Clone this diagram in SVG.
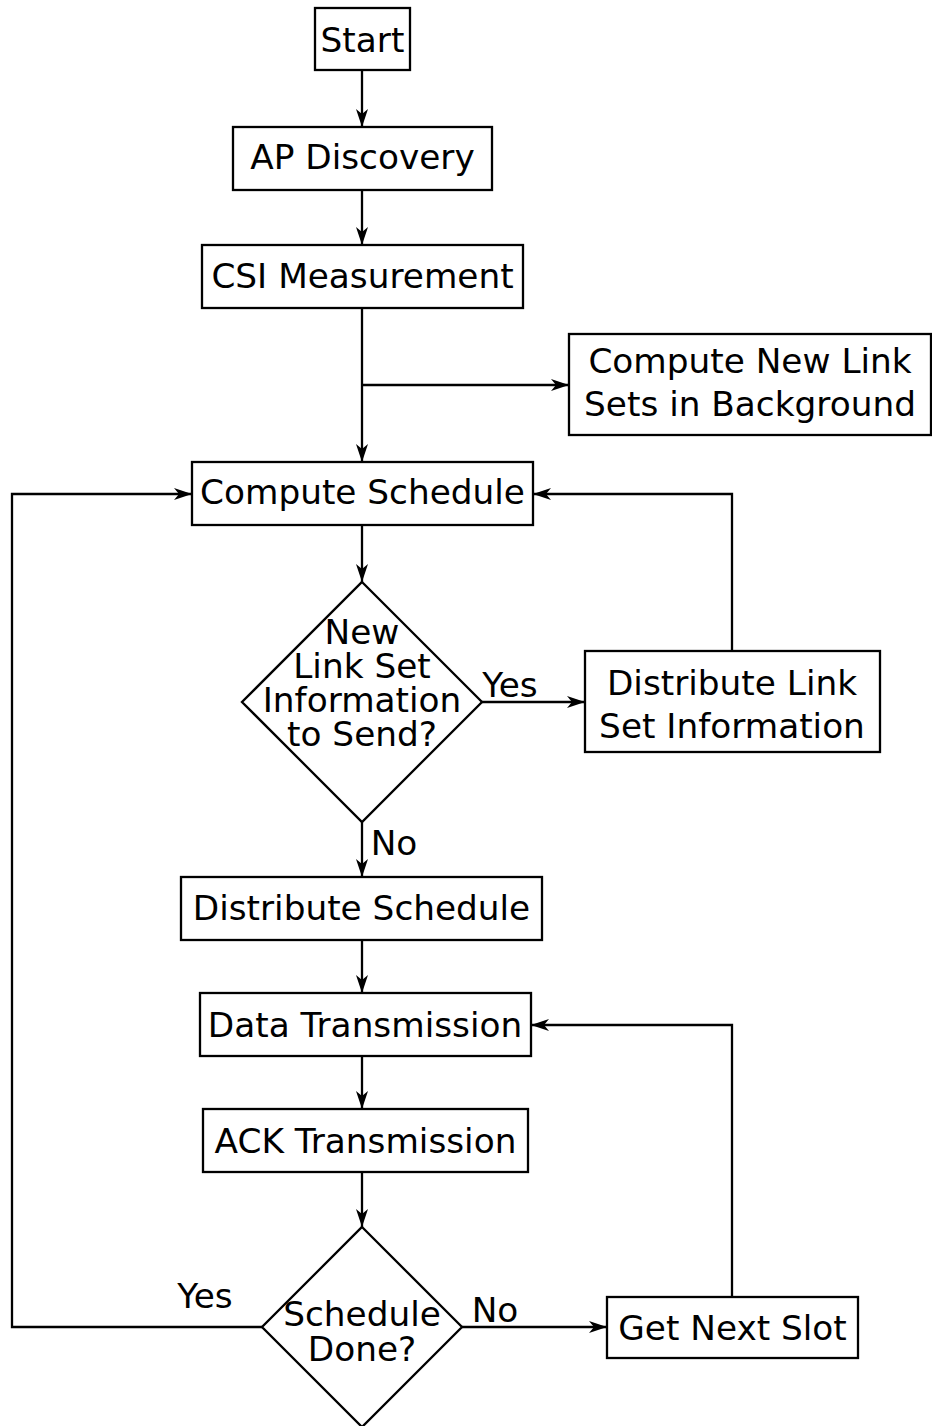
<svg xmlns="http://www.w3.org/2000/svg" width="932" height="1426" viewBox="0 0 932 1426">
  <style>
    .box { fill: #fff; stroke: #000; stroke-width: 2.3; }
    .lbl { font-family: "DejaVu Sans", sans-serif; font-size: 34.3px; fill: #000; text-anchor: middle; }
    .edge { fill: none; stroke: #000; stroke-width: 2.3; }
  </style>
  <defs>
    <marker id="arr" markerUnits="userSpaceOnUse" markerWidth="20" markerHeight="14" refX="18" refY="6" orient="auto">
      <path d="M0,0 L18,6 L0,12 L5,6 z" fill="#000"/>
    </marker>
  </defs>
  <rect width="932" height="1426" fill="#fff"/>

  <!-- connectors -->
  <g id="connectors">
    <path class="edge" d="M362,70 V127" marker-end="url(#arr)"/>
    <path class="edge" d="M362,190 V245" marker-end="url(#arr)"/>
    <path class="edge" d="M362,308 V462" marker-end="url(#arr)"/>
    <path class="edge" d="M362,385 H569" marker-end="url(#arr)"/>
    <path class="edge" d="M362,525 V582" marker-end="url(#arr)"/>
    <path class="edge" d="M482,702 H585" marker-end="url(#arr)"/>
    <path class="edge" d="M732,651 V494 H533" marker-end="url(#arr)"/>
    <path class="edge" d="M362,822 V877" marker-end="url(#arr)"/>
    <path class="edge" d="M362,940 V993" marker-end="url(#arr)"/>
    <path class="edge" d="M362,1056 V1109" marker-end="url(#arr)"/>
    <path class="edge" d="M362,1172 V1227" marker-end="url(#arr)"/>
    <path class="edge" d="M462,1327 H607" marker-end="url(#arr)"/>
    <path class="edge" d="M732,1297 V1025 H531" marker-end="url(#arr)"/>
    <path class="edge" d="M262,1327 H12 V494 H192" marker-end="url(#arr)"/>
    <text class="lbl" x="510" y="697">Yes</text>
    <text class="lbl" x="394" y="855">No</text>
    <text class="lbl" x="205" y="1308">Yes</text>
    <text class="lbl" x="495" y="1322">No</text>
  </g>

  <g id="start">
    <rect class="box" x="315" y="8" width="95" height="62"/>
    <text class="lbl" x="362.5" y="52">Start</text>
  </g>
  <g id="ap-discovery">
    <rect class="box" x="233" y="127" width="259" height="63"/>
    <text class="lbl" x="362.5" y="169">AP Discovery</text>
  </g>
  <g id="csi-measurement">
    <rect class="box" x="202" y="245" width="321" height="63"/>
    <text class="lbl" x="362.5" y="288">CSI Measurement</text>
  </g>
  <g id="compute-link-sets">
    <rect class="box" x="569" y="334" width="362" height="101"/>
    <text class="lbl" x="750" y="373">Compute New Link</text>
    <text class="lbl" x="750" y="416">Sets in Background</text>
  </g>
  <g id="compute-schedule">
    <rect class="box" x="192" y="462" width="341" height="63"/>
    <text class="lbl" x="362.5" y="504">Compute Schedule</text>
  </g>
  <g id="new-link-set-decision">
    <polygon class="box" points="362,582 482,702 362,822 242,702"/>
    <text class="lbl" x="362" y="644">New</text>
    <text class="lbl" x="362" y="678">Link Set</text>
    <text class="lbl" x="362" y="712">Information</text>
    <text class="lbl" x="362" y="746">to Send?</text>
  </g>
  <g id="distribute-link-set">
    <rect class="box" x="585" y="651" width="295" height="101"/>
    <text class="lbl" x="732" y="695">Distribute Link</text>
    <text class="lbl" x="732" y="738">Set Information</text>
  </g>
  <g id="distribute-schedule">
    <rect class="box" x="181" y="877" width="361" height="63"/>
    <text class="lbl" x="361.5" y="920">Distribute Schedule</text>
  </g>
  <g id="data-transmission">
    <rect class="box" x="200" y="993" width="331" height="63"/>
    <text class="lbl" x="365" y="1037">Data Transmission</text>
  </g>
  <g id="ack-transmission">
    <rect class="box" x="203" y="1109" width="325" height="63"/>
    <text class="lbl" x="365.5" y="1153">ACK Transmission</text>
  </g>
  <g id="schedule-done-decision">
    <polygon class="box" points="362,1227 462,1327 362,1427 262,1327"/>
    <text class="lbl" x="362" y="1326">Schedule</text>
    <text class="lbl" x="362" y="1361">Done?</text>
  </g>
  <g id="get-next-slot">
    <rect class="box" x="607" y="1297" width="251" height="61"/>
    <text class="lbl" x="732.5" y="1340">Get Next Slot</text>
  </g>
</svg>
